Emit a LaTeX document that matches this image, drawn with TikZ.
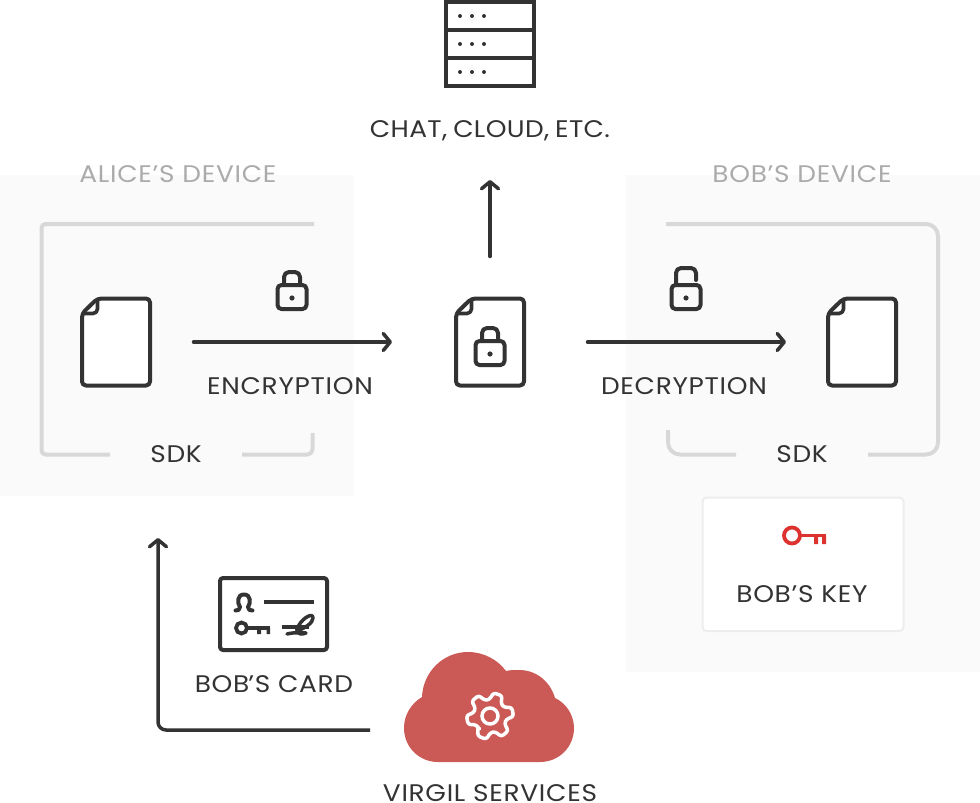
\documentclass[tikz,border=0pt]{standalone}
\usepackage{fontspec}
\setmainfont[FakeStretch=1.1,LetterSpace=3]{Poppins}
\usetikzlibrary{arrows.meta,calc}
\definecolor{ink}{HTML}{333333}
\definecolor{panel}{HTML}{FAFAFA}
\definecolor{frame}{HTML}{D8D8D8}
\definecolor{mute}{HTML}{ABABAB}
\definecolor{keyred}{HTML}{DD3330}
\definecolor{cloudred}{HTML}{CB5A56}
\tikzset{
  icon/.style={draw=ink,line width=4pt,line join=round,line cap=round},
  thin icon/.style={draw=ink,line width=4pt,line join=round,line cap=round},
  conn/.style={draw=ink,line width=3.5pt,line cap=round,line join=round,
    -{Straight Barb[length=7pt,width=17pt,line width=3.5pt,round]}},
  frameline/.style={draw=frame,line width=4pt,line join=round},
  lbl/.style={text=ink,font=\fontsize{24}{28}\selectfont,inner sep=0pt},
  ttl/.style={text=mute,font=\fontsize{24}{28}\selectfont,inner sep=0pt},
  anchorbox/.style={minimum height=90pt,inner sep=0pt,outer sep=0pt},
  docicon/.pic={
    \draw[icon,fill=white,rounded corners=4pt] (-18.5,-43.5) -- (34,-43.5) -- (34,43.5) -- (-34,43.5) -- (-34,-28.5) -- cycle;
    \draw[icon,line width=3.6pt] (-33,-28.5) -- (-23,-28.5) .. controls (-20.5,-28.5) and (-18.5,-30.5) .. (-18.5,-33) -- (-18.5,-42);
  },
  lockbody/.pic={
    \draw[thin icon,rounded corners=4pt] (-14.5,-12) rectangle (14.5,12);
    \fill[ink] (0,1) circle (2.6pt);
  },
  lockclosed/.pic={
    \path (0,0) pic {lockbody};
    \draw[thin icon,rounded corners=5pt] (-8,-12) -- (-8,-25) -- (8,-25) -- (8,-12);
  },
  lockopen/.pic={
    \path (0,0) pic {lockbody};
    \draw[thin icon,rounded corners=5pt] (-10,-12) -- (-10,-29) -- (10,-29) -- (10,-17);
  },
}
\begin{document}
\begin{tikzpicture}[x=1pt,y=-1pt]
\useasboundingbox (0,0) rectangle (980,803);
% device panels
\fill[panel] (0,175) rectangle (354,496);
\fill[panel] (626,175) rectangle (980,672);
% SDK frames
\draw[frameline,rounded corners=4pt] (314,224) -- (41.5,224) -- (41.5,454.5) -- (110,454.5);
\draw[frameline,rounded corners=5pt] (242,454.5) -- (312.5,454.5) -- (312.5,433);
\draw[frameline,rounded corners=12pt] (666,224) -- (938,224) -- (938,454.5) -- (868,454.5);
\draw[frameline,rounded corners=12pt] (736,454.5) -- (668,454.5) -- (668,430);
% key box
\draw[draw=black!7,line width=2pt,fill=white,rounded corners=4pt] (702.5,497.5) rectangle (903.5,631);
% server
\begin{scope}[icon,line cap=butt,line join=miter]
\draw (446,2) rectangle (534,86);
\draw (446,30) -- (534,30);
\draw (446,58) -- (534,58);
\end{scope}
\foreach \y in {16,44,72}{\foreach \x in {460,472,484}{\fill[ink] (\x,\y) circle (2pt);}}
% documents
\node[anchorbox,minimum width=155pt] (docA) at (116,342) {};
\node[anchorbox,minimum width=195.5pt] (docC) at (489.75,342) {};
\node[anchorbox,minimum width=152pt] (docB) at (862,342) {};
\path (116,342) pic {docicon};
\path (490,342) pic {docicon};
\path (862,342) pic {docicon};
% locks
\path (292,297) pic {lockclosed};
\path (490,353) pic {lockclosed};
\path (686,297) pic {lockopen};
% arrows
\coordinate (upS) at (490,256.5);
\coordinate (upE) at (490,180);
\coordinate (cardS) at (370,730);
\coordinate (cardC) at (158,730);
\coordinate (cardE) at (158,538);
\draw[conn] (docA.east) -- (docC.west);
\draw[conn] (docC.east) -- (docB.west);
\draw[conn] (upS) -- (upE);
\draw[conn,rounded corners=8pt,line cap=butt] (cardS) -- (cardC) -- (cardE);
% card
\draw[icon,rounded corners=3pt] (220,578) rectangle (327,650);
\draw[draw=ink,line width=4pt,line cap=round,line join=round]
  (235.5,610.5) .. controls (238,610.5) and (240,610) .. (240,607) .. controls (237,603) and (237,594.5) .. (244,594.5)
  .. controls (251,594.5) and (251,603) .. (248,607) .. controls (248,610) and (250,610.5) .. (252.5,610.5);
\draw[draw=ink,line width=4pt] (264,602) -- (314,602);
\draw[draw=ink,line width=3.8pt] (241.5,628) circle (5.5pt);
\draw[draw=ink,line width=4pt] (247,628) -- (270,628);
\fill[ink] (257,628) rectangle (261,634) (266.5,628) rectangle (270,634);
\draw[draw=ink,line width=3.5pt] (282,627) -- (309,627);
\draw[draw=ink,line width=3.5pt,line cap=round,line join=round]
  (287,634) .. controls (295,632) and (302,633) .. (306,633) .. controls (298,636) and (294,632) .. (299,625)
  .. controls (303,618) and (313,612) .. (313,618) .. controls (313,623) and (305,628) .. (297,631);
% cloud
\fill[cloudred] (438,762) .. controls (419,762) and (404,747) .. (404,728)
  .. controls (404,714) and (412,703) .. (422,697)
  .. controls (423,672) and (443,652) .. (468,652)
  .. controls (484,652) and (498,660) .. (506,671)
  .. controls (510,670) and (514,670) .. (519,670)
  .. controls (536,670) and (550,681) .. (555,698)
  .. controls (566,703) and (574,715) .. (574,728)
  .. controls (574,747) and (559,762) .. (540,762) -- cycle;
% gear
\draw[white,line width=3.5pt,line join=round,rounded corners=2.5pt]
  ($(490,716)+(138:16.5)$)
  \foreach \a in {110,50,-10,-70,-130,-190}{
    -- ($(490,716)+(\a+11:23.5)$) -- ($(490,716)+(\a-11:23.5)$) -- ($(490,716)+(\a-22:16.5)$) -- ($(490,716)+(\a-38:16.5)$) }
  -- cycle;
\draw[white,line width=3.5pt] (490,716) circle (8pt);
% red key
\draw[draw=keyred,line width=3.8pt] (792,535.5) circle (8pt);
\draw[draw=keyred,line width=3.6pt] (800,535.5) -- (826,535.5);
\fill[keyred] (814,535.5) rectangle (818,544) (822,535.5) rectangle (826,544);
% labels
\node[lbl] (chat) at (490,131) {\addfontfeatures{LetterSpace=1.5}CHAT,\kern-1.5pt{} CLOUD,\kern-1.5pt{} ETC.};
\node[ttl] (alice) at (178,174) {ALICE’S DEVICE};
\node[ttl] (bob) at (802,174) {BOB’S DEVICE};
\node[lbl] (enc) at (290,386) {ENCRYPTION};
\node[lbl] (dec) at (684,386) {DECRYPTION};
\node[lbl] (sdkA) at (176,454) {SDK};
\node[lbl] (sdkB) at (802,454) {SDK};
\node[lbl] (bkey) at (802,594) {BOB’S KEY};
\node[lbl] (bcard) at (274,684) {BOB\kern-1pt’S CARD};
\node[lbl] (virgil) at (490,793) {VIRGIL SERVICES};
\end{tikzpicture}
\end{document}
